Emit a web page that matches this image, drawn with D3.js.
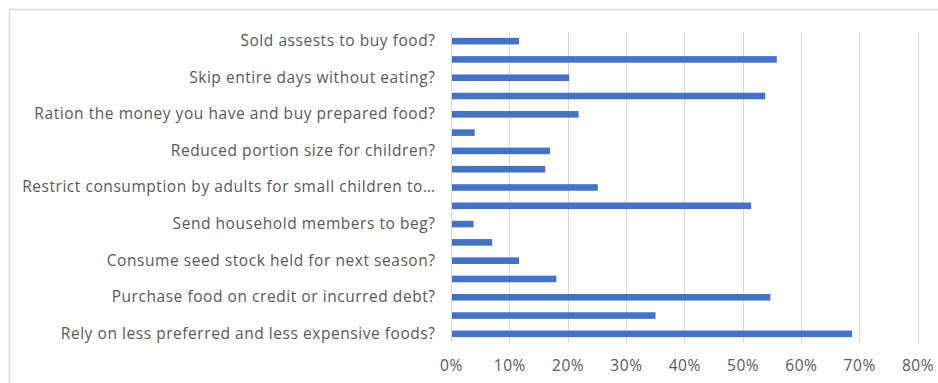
<!DOCTYPE html>
<html>
<head>
<meta charset="utf-8">
<script src="https://cdn.jsdelivr.net/npm/d3@7"></script>
<style>
  html, body { margin: 0; padding: 0; background: #fff; }
  svg { display: block; }
  text { font-family: "Open Sans", "Liberation Sans", sans-serif; fill: #595959; }
</style>
</head>
<body>
<svg id="chart" width="938" height="383"></svg>
<script>
// Coping strategies, top to bottom; only every other row carries a visible label
const categories = [
  "Sold assests to buy food?",
  "",
  "Skip entire days without eating?",
  "",
  "Ration the money you have and buy prepared food?",
  "",
  "Reduced portion size for children?",
  "",
  "Restrict consumption by adults for small children to…",
  "",
  "Send household members to beg?",
  "",
  "Consume seed stock held for next season?",
  "",
  "Purchase food on credit or incurred debt?",
  "",
  "Rely on less preferred and less expensive foods?"
];
// Share of households using each strategy
const values = [0.115, 0.557, 0.201, 0.537, 0.217, 0.039, 0.168, 0.160, 0.250,
                0.513, 0.037, 0.069, 0.115, 0.179, 0.546, 0.349, 0.686];
const xTicks = [0, 0.1, 0.2, 0.3, 0.4, 0.5, 0.6, 0.7, 0.8];

const svg = d3.select("#chart");

// chart frame
svg.append("path")
  .attr("d", "M9.5,383 V9.5 H938")
  .attr("fill", "none")
  .attr("stroke", "#d9d9d9")
  .attr("stroke-width", 1.5);

const plot = { left: 451, right: 917.5, top: 32, bottom: 343 };

const x = d3.scaleLinear().domain([0, 0.8]).range([plot.left, plot.right]);
const y = d3.scaleBand()
  .domain(d3.range(values.length))
  .range([plot.top, plot.bottom])
  .paddingInner(0.64)
  .paddingOuter(0.32);

// vertical gridlines
svg.append("g")
  .selectAll("line")
  .data(xTicks)
  .join("line")
  .attr("x1", d => Math.round(x(d)) + 0.5)
  .attr("x2", d => Math.round(x(d)) + 0.5)
  .attr("y1", plot.top)
  .attr("y2", plot.bottom)
  .attr("stroke", "#d9d9d9")
  .attr("stroke-width", 1);

// bars
svg.append("g")
  .selectAll("rect")
  .data(values)
  .join("rect")
  .attr("x", x(0) + 1)
  .attr("y", (d, i) => y(i))
  .attr("width", d => x(d) - x(0))
  .attr("height", y.bandwidth())
  .attr("fill", "#4472c4");

const labelStyle = sel => sel
  .attr("font-size", 15.5)
  .attr("font-family", null)
  .style("letter-spacing", "0.55px")
  .style("fill", "#595959");

// x axis labels
const xAxis = d3.axisBottom(x)
  .tickValues(xTicks)
  .tickFormat(d3.format(".0%"))
  .tickSize(0)
  .tickPadding(0);
const gx = svg.append("g")
  .attr("transform", `translate(0,${plot.bottom + 17})`)
  .call(xAxis);
gx.select(".domain").remove();
gx.selectAll("text").call(labelStyle);

// category labels
const yAxis = d3.axisLeft(y)
  .tickFormat(i => categories[i])
  .tickSize(0)
  .tickPadding(0);
const gy = svg.append("g")
  .attr("transform", `translate(${plot.left - 15.5},0)`)
  .call(yAxis);
gy.select(".domain").remove();
gy.selectAll("text").call(labelStyle);
</script>
</body>
</html>
